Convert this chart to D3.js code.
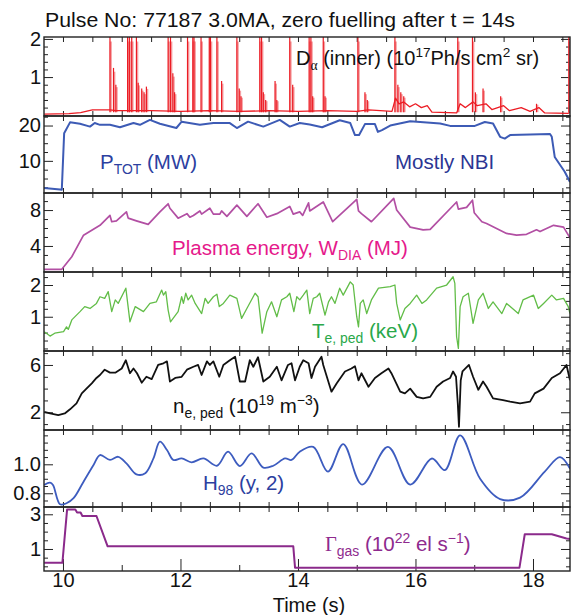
<!DOCTYPE html>
<html><head><meta charset="utf-8">
<script src="https://cdn.jsdelivr.net/npm/d3@7"></script>
<style>
body{margin:0;background:#fff;}
svg{display:block;font-family:"Liberation Sans",Arial,Helvetica,sans-serif;}
</style></head><body>
<svg id="c" width="578" height="615"></svg>
<script>
// ---------------- DATA ----------------
const titleText = "Pulse No: 77187 3.0MA, zero fuelling after t = 14s";
const timeTicks = [10, 12, 14, 16, 18];
const timeDomain = [9.677, 18.63];

const daTicks = [1, 2];
const ptotTicks = [10, 20];
const wTicks = [4, 8];
const teTicks = [1, 2];
const neTicks = [2, 6];
const h98Ticks = [0.8, 1.0];
const gasTicks = [1, 3];

// D-alpha baseline (t, value)
const daBase = [[9.68,0.03],[10.1,0.04],[10.3,0.07],[10.5,0.14],[10.8,0.14],[10.9,0.12],[11.5,0.12],[12.0,0.1],[12.5,0.12],[13.0,0.1],[13.5,0.12],[14.0,0.1],[14.5,0.12],[15.0,0.1],[15.2,0.14],[15.6,0.1],[15.66,0.45],[15.72,0.3],[15.8,0.35],[15.9,0.22],[16.0,0.3],[16.1,0.2],[16.2,0.25],[16.28,0.08],[16.7,0.06],[16.76,0.3],[16.85,0.2],[16.98,0.35],[17.05,0.25],[17.2,0.3],[17.3,0.15],[17.5,0.25],[17.6,0.12],[17.8,0.2],[17.95,0.1],[18.1,0.2],[18.2,0.06],[18.6,0.05],[18.63,0.08]];
// D-alpha ELM spikes (t, peak)
const daSpikes = [[10.80,2.1],[10.86,1.24],[10.90,0.8],[11.10,2.1],[11.13,2.1],[11.17,2.1],[11.25,2.1],[11.28,0.85],[11.34,0.7],[11.38,0.6],[11.42,0.75],[11.79,2.1],[11.83,2.1],[11.87,1.1],[11.90,0.6],[12.12,2.1],[12.21,2.1],[12.23,2.1],[12.35,2.1],[12.49,2.1],[12.51,2.1],[12.62,2.1],[12.70,0.9],[12.96,2.1],[13.00,0.7],[13.03,0.5],[13.35,2.1],[13.38,2.1],[13.41,0.6],[13.45,0.4],[13.61,0.9],[13.64,0.4],[13.86,2.1],[13.91,0.8],[14.19,2.1],[14.22,2.1],[14.25,0.5],[14.43,2.1],[14.46,0.5],[15.02,2.1],[15.14,0.6],[15.18,0.4],[15.65,2.1],[15.70,0.8],[15.75,0.6],[15.80,0.5],[16.72,2.1],[16.97,2.1],[17.02,0.6],[17.15,0.7],[17.45,0.5],[18.06,0.3],[18.61,2.1]];

const ptot = [[9.68,2.3],[9.95,1.9],[9.98,1.8],[10.02,17.8],[10.12,20.9],[10.29,20.5],[10.46,19.7],[10.54,20.7],[10.63,20.2],[10.80,20.2],[10.97,19.5],[11.20,20.7],[11.31,20.2],[11.48,21.6],[11.65,20.5],[11.93,19.3],[12.02,21.1],[12.33,20.2],[12.56,20.7],[12.84,20.7],[12.96,19.3],[13.15,21.1],[13.41,19.7],[13.69,21.6],[13.86,19.7],[14.03,20.7],[14.2,20.3],[14.41,19.5],[14.71,21.5],[14.89,20.7],[14.97,17.3],[15.04,17.3],[15.14,20.4],[15.31,20.4],[15.36,18.2],[15.43,18.7],[15.57,20.0],[15.91,21.2],[16.42,20.6],[16.59,19.9],[17.01,19.9],[17.18,21.0],[17.32,20.6],[17.44,16.8],[17.52,16.3],[17.61,17.3],[18.29,17.6],[18.32,16.8],[18.37,11.1],[18.54,6.9],[18.63,4.0]];

const wdia = [[9.68,1.4],[9.98,1.4],[10.15,2.8],[10.35,5.2],[10.63,6.3],[10.80,7.4],[10.83,6.7],[10.91,6.8],[11.08,7.8],[11.11,7.1],[11.25,6.8],[11.45,6.4],[11.65,7.8],[11.79,8.7],[11.82,8.2],[11.96,7.1],[12.11,7.6],[12.16,7.2],[12.22,7.4],[12.33,7.9],[12.36,7.55],[12.50,8.2],[12.56,7.55],[12.67,7.55],[12.70,7.9],[12.79,7.3],[12.96,8.55],[13.13,7.3],[13.32,8.7],[13.47,7.2],[13.64,7.6],[13.86,8.4],[13.92,7.55],[14.03,7.8],[14.08,7.4],[14.18,8.8],[14.20,7.9],[14.43,8.9],[14.59,6.7],[15.00,9.2],[15.03,7.9],[15.08,7.6],[15.25,6.7],[15.63,9.3],[15.68,8.0],[15.91,6.1],[16.13,5.8],[16.25,5.85],[16.70,8.9],[16.73,8.1],[16.87,8.3],[16.97,9.1],[17.00,7.7],[17.13,6.7],[17.21,6.5],[17.55,5.4],[17.72,5.2],[17.89,5.3],[18.06,5.8],[18.12,5.6],[18.35,6.3],[18.52,6.1],[18.63,4.9]];

const teped = [[9.68,0.53],[9.78,0.39],[9.86,0.48],[10.01,0.53],[10.06,0.68],[10.09,0.6],[10.15,0.9],[10.29,1.16],[10.37,1.32],[10.46,1.26],[10.57,1.42],[10.63,1.63],[10.71,1.58],[10.77,1.79],[10.83,1.16],[10.89,1.53],[10.94,1.42],[11.07,1.9],[11.14,0.84],[11.23,1.32],[11.37,1.16],[11.48,1.42],[11.59,1.47],[11.68,1.84],[11.71,1.68],[11.75,1.79],[11.79,1.21],[11.83,0.84],[11.96,1.16],[12.02,1.63],[12.05,1.42],[12.09,1.74],[12.13,1.53],[12.19,1.68],[12.25,1.42],[12.36,1.1],[12.42,1.58],[12.47,1.42],[12.56,1.63],[12.62,1.71],[12.66,1.32],[12.73,1.42],[12.84,1.68],[12.96,1.58],[13.04,0.95],[13.13,1.26],[13.27,1.74],[13.32,1.63],[13.39,0.48],[13.47,1.16],[13.55,1.47],[13.64,1.0],[13.72,1.53],[13.81,1.63],[13.86,1.74],[13.93,1.16],[13.98,1.63],[14.03,1.53],[14.09,1.68],[14.15,1.84],[14.20,1.1],[14.26,1.58],[14.32,1.63],[14.37,1.74],[14.46,1.05],[14.52,1.47],[14.57,1.63],[14.63,1.42],[14.71,1.9],[14.77,1.68],[14.89,2.1],[14.94,2.0],[15.00,1.0],[15.03,0.68],[15.06,1.42],[15.11,1.53],[15.17,1.1],[15.25,1.53],[15.37,1.9],[15.57,1.95],[15.65,2.0],[15.68,1.42],[15.74,0.9],[15.82,1.26],[15.91,1.42],[16.02,1.68],[16.11,1.42],[16.19,1.53],[16.36,1.9],[16.53,2.0],[16.64,2.26],[16.67,2.05],[16.70,0.37],[16.73,0.0],[16.76,1.32],[16.81,1.63],[16.90,1.74],[16.98,0.79],[17.07,1.53],[17.15,1.74],[17.24,1.26],[17.32,1.47],[17.47,1.1],[17.55,1.42],[17.75,1.1],[17.83,1.53],[18.01,1.68],[18.09,1.26],[18.18,1.42],[18.32,1.68],[18.40,1.53],[18.52,1.58],[18.60,1.32],[18.63,1.1]];

const neped = [[9.68,2.04],[9.78,1.9],[9.92,1.76],[10.03,1.9],[10.12,2.25],[10.23,2.75],[10.32,3.6],[10.40,4.0],[10.49,4.45],[10.57,4.9],[10.63,5.15],[10.71,5.6],[10.80,5.35],[10.89,5.35],[11.00,5.7],[11.07,6.4],[11.14,5.3],[11.20,5.7],[11.26,5.3],[11.34,4.5],[11.42,5.0],[11.51,4.8],[11.62,6.0],[11.71,6.14],[11.77,6.3],[11.82,4.6],[11.91,4.9],[12.02,5.0],[12.11,5.6],[12.22,5.85],[12.30,6.0],[12.36,5.15],[12.45,6.3],[12.50,6.0],[12.56,6.3],[12.66,5.0],[12.73,6.0],[12.84,6.4],[12.93,6.7],[13.01,4.6],[13.10,4.6],[13.18,6.4],[13.24,5.85],[13.32,6.65],[13.41,4.6],[13.52,5.0],[13.64,5.85],[13.72,4.7],[13.83,6.0],[13.89,6.14],[13.95,4.7],[14.03,5.85],[14.09,6.4],[14.18,6.14],[14.23,4.9],[14.29,5.85],[14.40,6.7],[14.43,6.0],[14.57,3.74],[14.66,4.45],[14.80,5.45],[14.91,5.7],[14.97,5.9],[15.03,4.7],[15.08,5.3],[15.20,4.16],[15.31,4.9],[15.42,5.3],[15.54,5.7],[15.59,5.3],[15.74,3.74],[15.82,3.6],[15.91,4.0],[16.02,3.3],[16.13,3.17],[16.25,3.3],[16.36,4.16],[16.47,4.6],[16.59,4.9],[16.64,5.45],[16.69,5.0],[16.72,2.75],[16.74,0.77],[16.77,4.7],[16.80,5.45],[16.91,6.0],[16.98,5.0],[17.07,3.9],[17.15,4.6],[17.21,4.16],[17.32,3.17],[17.49,3.03],[17.61,2.9],[17.78,2.75],[17.95,2.9],[18.03,3.6],[18.18,4.0],[18.32,4.9],[18.46,5.3],[18.57,6.0],[18.63,4.7]];

const h98 = [[9.68,0.857],[9.78,0.873],[9.83,0.857],[9.95,0.724],[10.06,0.731],[10.18,0.766],[10.35,0.88],[10.52,0.995],[10.63,1.064],[10.80,1.03],[10.94,1.052],[11.08,1.007],[11.25,0.931],[11.40,0.938],[11.54,1.041],[11.65,1.156],[11.77,1.099],[11.88,1.03],[12.02,1.041],[12.19,1.014],[12.39,1.041],[12.62,0.99],[12.81,1.087],[13.01,0.988],[13.21,1.076],[13.41,0.977],[13.58,0.99],[13.78,1.041],[13.89,1.03],[14.03,1.087],[14.26,1.12],[14.51,0.95],[14.77,1.14],[15.09,0.86],[15.53,1.12],[15.91,0.86],[16.28,1.04],[16.50,0.96],[16.76,1.2],[17.10,0.9],[17.44,0.76],[17.78,0.77],[18.20,0.95],[18.46,1.05],[18.63,0.97]];

const gas = [[9.68,0.2],[9.99,0.2],[10.07,3.27],[10.21,3.27],[10.24,3.1],[10.30,3.1],[10.33,2.9],[10.57,2.9],[10.76,1.15],[13.92,1.15],[13.95,-0.08],[17.77,-0.08],[17.86,1.85],[18.32,1.85],[18.57,1.6],[18.63,1.58]];

// ---------------- LAYOUT ----------------
const X0 = 44, X1 = 570;
const svg = d3.select("#c");
const x = d3.scaleLinear().domain(timeDomain).range([X0, X1]);
const ink = "#222";

svg.append("text").attr("x", 45).attr("y", 27).attr("font-size", 21)
  .attr("textLength", 470).attr("lengthAdjust", "spacingAndGlyphs")
  .attr("fill", "#111").text(titleText);

const panels = [
  {id:"da",  y0:37,  y1:116, dom:[-0.02,2.05], ticks:daTicks, minor:0.2, fmt:d3.format("d")},
  {id:"pt",  y0:116, y1:193, dom:[0.9,22.7],   ticks:ptotTicks, minor:2.5, fmt:d3.format("d")},
  {id:"w",   y0:193, y1:272, dom:[1.1,9.9],    ticks:wTicks, minor:1, fmt:d3.format("d")},
  {id:"te",  y0:272, y1:351, dom:[-0.08,2.41], ticks:teTicks, minor:0.25, fmt:d3.format("d")},
  {id:"ne",  y0:351, y1:430, dom:[0.5,7.18],   ticks:neTicks, minor:1, fmt:d3.format("d")},
  {id:"h",   y0:430, y1:507, dom:[0.705,1.237],ticks:h98Ticks, minor:0.05, fmt:d3.format(".1f")},
  {id:"g",   y0:507, y1:571, dom:[-0.27,3.42], ticks:gasTicks, minor:0.5, fmt:d3.format("d")}
];

const ys = {};
panels.forEach((p, i) => {
  const y = d3.scaleLinear().domain(p.dom).range([p.y1, p.y0]);
  ys[p.id] = y;
  const g = svg.append("g");
  g.append("clipPath").attr("id", "clip-" + p.id).append("rect")
    .attr("x", X0).attr("y", p.y0).attr("width", X1 - X0).attr("height", p.y1 - p.y0);
  const minors = d3.range(Math.ceil(p.dom[0] / p.minor) * p.minor, p.dom[1], p.minor)
    .filter(v => !p.ticks.some(t => Math.abs(t - v) < 1e-6));
  // left
  const la = g.append("g").attr("transform", `translate(${X0},0)`)
    .call(d3.axisLeft(y).tickValues(p.ticks).tickSizeInner(-9).tickSizeOuter(0).tickPadding(3).tickFormat(p.fmt));
  la.selectAll("text").attr("font-size", 20).attr("fill", "#111").attr("font-family", '"Liberation Sans",Arial,sans-serif');
  g.append("g").attr("transform", `translate(${X0},0)`)
    .call(d3.axisLeft(y).tickValues(minors).tickSizeInner(-4).tickSizeOuter(0).tickFormat(""));
  // right
  g.append("g").attr("transform", `translate(${X1},0)`)
    .call(d3.axisRight(y).tickValues(p.ticks).tickSizeInner(-9).tickSizeOuter(0).tickFormat(""));
  g.append("g").attr("transform", `translate(${X1},0)`)
    .call(d3.axisRight(y).tickValues(minors).tickSizeInner(-4).tickSizeOuter(0).tickFormat(""));
  // top/bottom time ticks
  const halfTicks = d3.range(10, 18.6, 0.5);
  g.append("g").attr("transform", `translate(0,${p.y0})`)
    .call(d3.axisTop(x).tickValues(halfTicks).tickSizeInner(-5).tickSizeOuter(0).tickFormat(""));
  if (i < panels.length - 1) {
    g.append("g").attr("transform", `translate(0,${p.y1})`)
      .call(d3.axisBottom(x).tickValues(halfTicks).tickSizeInner(-5).tickSizeOuter(0).tickFormat(""));
  } else {
    const ba = g.append("g").attr("transform", `translate(0,${p.y1})`)
      .call(d3.axisBottom(x).tickValues(timeTicks).tickSizeInner(-12).tickSizeOuter(0).tickPadding(2).tickFormat(d3.format("d")));
    ba.selectAll("text").attr("font-size", 20).attr("fill", "#111").attr("font-family", '"Liberation Sans",Arial,sans-serif');
    g.append("g").attr("transform", `translate(0,${p.y1})`)
      .call(d3.axisBottom(x).tickValues([11,13,15,17]).tickSizeInner(-6).tickSizeOuter(0).tickFormat(""));
  }
  g.selectAll(".domain").remove();
  g.selectAll(".tick line").attr("stroke", ink).attr("stroke-width", 1);
  p.g = g;
});

function plotLine(id, data, color, width, curve) {
  const y = ys[id];
  const line = d3.line().x(d => x(d[0])).y(d => y(d[1])).curve(curve || d3.curveLinear);
  svg.append("path").datum(data).attr("clip-path", `url(#clip-${id})`)
    .attr("fill", "none").attr("stroke", color).attr("stroke-width", width)
    .attr("stroke-linejoin", "round").attr("d", line);
}

// D-alpha
{
  const y = ys.da;
  const sg = svg.append("g").attr("clip-path", "url(#clip-da)");
  sg.selectAll("line.halo").data(daSpikes).join("line").attr("class", "halo")
    .attr("x1", d => x(d[0]) + 0.8).attr("x2", d => x(d[0]) + 0.8)
    .attr("y1", y(0.08)).attr("y2", d => y(d[1] * 0.92))
    .attr("stroke", "#f5a0a3").attr("stroke-width", 2.2);
  sg.selectAll("line.sp").data(daSpikes).join("line").attr("class", "sp")
    .attr("x1", d => x(d[0])).attr("x2", d => x(d[0]))
    .attr("y1", y(0.08)).attr("y2", d => y(d[1]))
    .attr("stroke", "#ec1c24").attr("stroke-width", 1.2);
  plotLine("da", daBase, "#ec1c24", 1.3);
}
plotLine("pt", ptot, "#3d5bb5", 2);
plotLine("w", wdia, "#b24fa3", 1.7);
plotLine("te", teped, "#62bd48", 1.3);
plotLine("ne", neped, "#111", 1.8);
plotLine("h", h98, "#3d5cbf", 1.8, d3.curveCatmullRom.alpha(0.5));
plotLine("g", gas, "#8b2a8b", 2);

// frames on top
panels.forEach(p => {
  svg.append("rect").attr("x", X0).attr("y", p.y0).attr("width", X1 - X0).attr("height", p.y1 - p.y0)
    .attr("fill", "none").attr("stroke", ink).attr("stroke-width", 1.4);
});

// annotations
function label(xp, yp, parts, color, size) {
  const t = svg.append("text").attr("x", xp).attr("y", yp).attr("fill", color).attr("font-size", size);
  let shift = 0;
  parts.forEach(pt => {
    const target = pt.sub ? 5 : pt.sup ? -8 : 0;
    const ts = t.append("tspan").text(pt.t).attr("dy", target - shift);
    if (pt.sub || pt.sup) ts.attr("font-size", size * 0.68);
    if (pt.serif) ts.attr("font-family", '"Liberation Serif","DejaVu Serif",serif');
    shift = target;
  });
}
label(296, 65, [{t:"D"},{t:"α", sub:true, serif:true},{t:" (inner) (10"},{t:"17", sup:true},{t:"Ph/s cm"},{t:"2", sup:true},{t:" sr)"}], "#111", 20);
label(100, 169, [{t:"P"},{t:"TOT", sub:true},{t:" (MW)"}], "#2c40a0", 20.5);
label(395, 169, [{t:"Mostly NBI"}], "#2b3593", 20.5);
label(172, 255, [{t:"Plasma energy, W"},{t:"DIA", sub:true},{t:" (MJ)"}], "#e5198b", 20.5);
label(312, 338, [{t:"T"},{t:"e, ped", sub:true},{t:" (keV)"}], "#2aa84a", 20.5);
label(173, 413, [{t:"n"},{t:"e, ped", sub:true},{t:" (10"},{t:"19", sup:true},{t:" m"},{t:"−3", sup:true},{t:")"}], "#111", 20.5);
label(203, 490, [{t:"H"},{t:"98", sub:true},{t:" (y, 2)"}], "#2c40a0", 20.5);
label(325, 551, [{t:"Γ", serif:true},{t:"gas", sub:true},{t:" (10"},{t:"22", sup:true},{t:" el s"},{t:"−1", sup:true},{t:")"}], "#8e2a8e", 20.5);

svg.append("text").attr("x", 309).attr("y", 612).attr("text-anchor", "middle")
  .attr("font-size", 20).attr("fill", "#111").text("Time (s)");
</script>
</body></html>
